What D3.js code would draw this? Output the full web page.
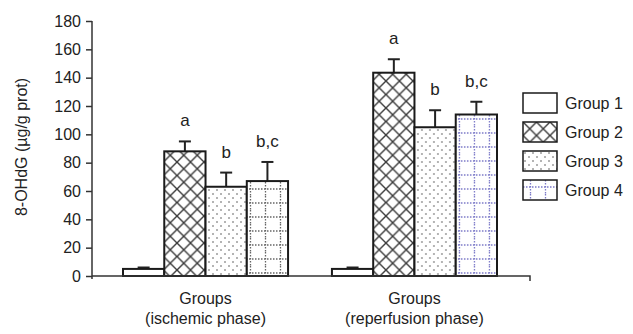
<!DOCTYPE html>
<html lang="en">
  <head>
    <meta charset="UTF-8" />
    <title>8-OHdG</title>
    <style>
      body { margin: 0; background: #fff; }
      svg text { font-family: "Liberation Sans", Arial, sans-serif; fill: #222; }
    </style>
  </head>
  <body>
    <div id="chart"></div>
    <script src="https://cdn.jsdelivr.net/npm/d3@7"></script>
    <script>
      const phases = ["ischemic", "reperfusion"];
      const phaseLabels = [["Groups", "(ischemic phase)"], ["Groups", "(reperfusion phase)"]];
      const groups = ["Group 1", "Group 2", "Group 3", "Group 4"];
      const ischemic = [5, 88, 63, 67];
      const ischemicErr = [1, 7, 10, 13.5];
      const reperfusion = [5, 143.5, 105, 114];
      const reperfusionErr = [1, 9.5, 12, 9];
      const letters = ["", "a", "b", "b,c"];
      const yTicks = [0, 20, 40, 60, 80, 100, 120, 140, 160, 180];

      (() => {
        const width = 633, height = 334;
        const svg = d3.select("#chart").append("svg")
          .attr("width", width).attr("height", height);

        const defs = svg.append("defs");

        // crosshatch for group 2
        const cross = defs.append("pattern").attr("id", "p2")
          .attr("patternUnits", "userSpaceOnUse").attr("width", 13.5).attr("height", 13.5);
        cross.append("rect").attr("width", 13.5).attr("height", 13.5).attr("fill", "#fff");
        cross.append("path").attr("d", "M0,0L13.5,13.5M13.5,0L0,13.5")
          .attr("stroke", "#3a3a3a").attr("stroke-width", 1.4);

        // dots for group 3
        const dots = defs.append("pattern").attr("id", "p3")
          .attr("patternUnits", "userSpaceOnUse").attr("width", 8).attr("height", 8);
        dots.append("rect").attr("width", 8).attr("height", 8).attr("fill", "#fff");
        dots.append("circle").attr("cx", 2).attr("cy", 2).attr("r", 0.8).attr("fill", "#555");
        dots.append("circle").attr("cx", 6).attr("cy", 6).attr("r", 0.8).attr("fill", "#555");

        // dotted grid for group 4, gray in one phase and blue in the other
        const grid = (id, color) => {
          const p = defs.append("pattern").attr("id", id)
            .attr("patternUnits", "userSpaceOnUse").attr("width", 15).attr("height", 14);
          p.append("rect").attr("width", 15).attr("height", 14).attr("fill", "#fff");
          p.append("path").attr("d", "M7.5,0V14M0,7H15")
            .attr("stroke", color).attr("stroke-width", 1.3)
            .attr("stroke-dasharray", "1.5,1.5");
        };
        grid("p4a", "#666");
        grid("p4b", "#7a78c8");

        const fills = [
          ["#fff", "url(#p2)", "url(#p3)", "url(#p4a)"],
          ["#fff", "url(#p2)", "url(#p3)", "url(#p4b)"]
        ];

        const y = d3.scaleLinear().domain([0, 180]).range([276, 21]);
        const x0 = d3.scaleBand().domain(phases).range([123, 497]).paddingInner(0.21);
        const x1 = d3.scaleBand().domain(groups).range([0, x0.bandwidth()]);

        const data = [ischemic, reperfusion];
        const errs = [ischemicErr, reperfusionErr];

        phases.forEach((ph, pi) => {
          const g = svg.append("g").attr("transform", `translate(${x0(ph)},0)`);
          groups.forEach((grp, gi) => {
            const v = data[pi][gi], e = errs[pi][gi];
            const bx = x1(grp), bw = x1.bandwidth();
            const cx = bx + bw / 2;
            g.append("line")
              .attr("x1", cx).attr("x2", cx)
              .attr("y1", y(v)).attr("y2", y(v + e))
              .attr("stroke", "#222").attr("stroke-width", 2);
            g.append("line")
              .attr("x1", cx - 6).attr("x2", cx + 6)
              .attr("y1", y(v + e)).attr("y2", y(v + e))
              .attr("stroke", "#222").attr("stroke-width", 2);
            g.append("rect")
              .attr("x", bx).attr("y", y(v))
              .attr("width", bw).attr("height", y(0) - y(v))
              .attr("fill", fills[pi][gi])
              .attr("stroke", "#1a1a1a").attr("stroke-width", 2);
            if (letters[gi]) {
              g.append("text")
                .attr("x", cx).attr("y", y(v + e) - 15)
                .attr("text-anchor", "middle")
                .style("font-size", "17px")
                .text(letters[gi]);
            }
          });
          const lab = svg.append("text")
            .attr("text-anchor", "middle")
            .style("font-size", "16px");
          phaseLabels[pi].forEach((t, li) => {
            lab.append("tspan")
              .attr("x", x0(ph) + x0.bandwidth() / 2)
              .attr("y", 304 + li * 20)
              .text(t);
          });
        });

        // y axis
        const yAxis = svg.append("g").attr("transform", "translate(92,0)")
          .call(d3.axisLeft(y).tickValues(yTicks).tickSize(6).tickPadding(5));
        yAxis.select(".domain").attr("stroke", "#333").attr("stroke-width", 1.5)
          .attr("d", "M0,21V279");
        yAxis.selectAll(".tick line").attr("stroke", "#333").attr("stroke-width", 1.5);
        yAxis.selectAll(".tick text")
          .style("font-size", "16px")
          .style("font-family", "'Liberation Sans', Arial, sans-serif")
          .attr("fill", "#222");

        // x axis line
        svg.append("path")
          .attr("d", "M92,276H530V281")
          .attr("fill", "none").attr("stroke", "#333").attr("stroke-width", 1.5);

        svg.append("text")
          .attr("transform", "translate(21,147) rotate(-90)")
          .attr("text-anchor", "middle")
          .attr("dominant-baseline", "central")
          .style("font-size", "16px")
          .text("8-OHdG (\u00b5g/g prot)");

        // legend
        const legFills = ["#fff", "url(#p2)", "url(#p3)", "url(#p4b)"];
        const leg = svg.append("g").attr("transform", "translate(523,93)");
        groups.forEach((grp, gi) => {
          const row = leg.append("g").attr("transform", `translate(0,${gi * 29})`);
          row.append("rect")
            .attr("width", 34).attr("height", 20)
            .attr("fill", legFills[gi])
            .attr("stroke", "#1a1a1a").attr("stroke-width", 1.5);
          row.append("text")
            .attr("x", 42).attr("y", 10)
            .attr("dominant-baseline", "central")
            .style("font-size", "16px")
            .text(grp);
        });
      })();
    </script>
  </body>
</html>
